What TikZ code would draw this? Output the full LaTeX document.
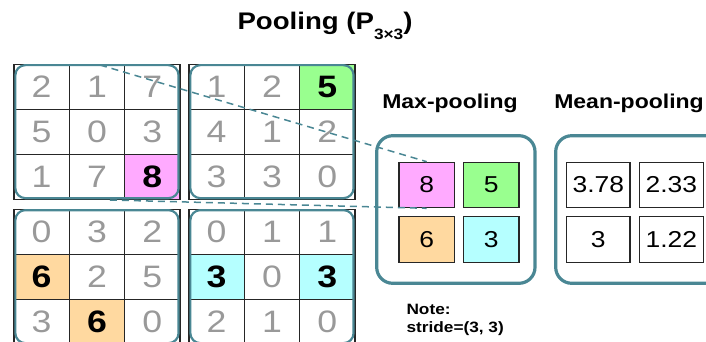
\documentclass[tikz,border=0pt]{standalone}
\usepackage{fontspec}
\setmainfont[FakeStretch=1.15]{Liberation Sans}
\usetikzlibrary{calc}
\definecolor{frameteal}{HTML}{4A8794}
\definecolor{maxpink}{HTML}{FFAAFF}
\definecolor{maxgreen}{HTML}{99FF8F}
\definecolor{maxorange}{HTML}{FFD9A0}
\definecolor{maxcyan}{HTML}{B5FFFF}
\definecolor{digitgray}{HTML}{999999}

\tikzset{
  cell/.style={draw=black!85, line width=1.3pt, minimum width=55.3pt,
    minimum height=45pt, inner sep=0pt, text=digitgray,
    font=\fontsize{31}{31}\selectfont},
  plain/.style={},
  hl/.style={fill=#1, text=black, font=\fontsize{31}{31}\selectfont\bfseries},
  hlpink/.style={hl=maxpink},
  hlgreen/.style={hl=maxgreen},
  hlorange/.style={hl=maxorange},
  hlcyan/.style={hl=maxcyan},
  blockframe/.style={draw=frameteal, line width=2.2pt, rounded corners=10pt},
  poolframe/.style={draw=frameteal, line width=3.2pt, rounded corners=16pt},
  poolcell/.style={draw=black!85, line width=1.2pt, minimum height=45.4pt,
    inner sep=0pt, font=\fontsize{23}{23}\selectfont},
  heading/.style={font=\fontsize{20}{20}\selectfont\bfseries, anchor=base},
  notetext/.style={font=\fontsize{15}{15}\selectfont\bfseries, anchor=base west},
  link/.style={draw=frameteal, line width=1.5pt, dash pattern=on 7pt off 5pt}
}

% one 3x3 block of the input: name, left, top, values
\newcommand{\inblock}[4]{%
  \foreach \v/\s [count=\i from 0] in {#4}{
    \pgfmathtruncatemacro\col{mod(\i,3)}
    \pgfmathtruncatemacro\row{div(\i,3)}
    \node[cell,\s] (#1\i) at ({#2+27.65+55.3*\col},{#3+22.5+45*\row}) {\v};
  }
  \draw[blockframe]
    ([shift={(2,1.5)}]#10.north west) rectangle ([shift={(-2,-1.8)}]#18.south east);
}

\begin{document}
\begin{tikzpicture}[x=1pt,y=-1pt]
\useasboundingbox (0,0) rectangle (706,342);

% Title
\node[font=\fontsize{24}{24}\selectfont\bfseries, anchor=base] (title)
  at (325,30) {Pooling (P\raisebox{-10pt}{\fontsize{15}{15}\selectfont 3×3})};

% Input split into four 3x3 blocks
\inblock{tl}{14}{64.3}{2/plain,1/plain,7/plain,5/plain,0/plain,3/plain,1/plain,7/plain,8/hlpink}
\inblock{tr}{189}{64.3}{1/plain,2/plain,5/hlgreen,4/plain,1/plain,2/plain,3/plain,3/plain,0/plain}
\inblock{bl}{14}{209.3}{0/plain,3/plain,2/plain,6/hlorange,2/plain,5/plain,3/plain,6/hlorange,0/plain}
\inblock{br}{189}{209.3}{0/plain,1/plain,1/plain,3/hlcyan,0/plain,3/hlcyan,2/plain,1/plain,0/plain}

% Max-pooling result
\node[heading] (maxhead) at (450,108.3) {Max-pooling};
\draw[poolframe] (376.7,135.7) rectangle (535,283.3);
\node[poolcell, fill=maxpink, minimum width=55.3pt] (m8) at (426.7,185) {8};
\node[poolcell, fill=maxgreen, minimum width=55.7pt] (m5) at (491.2,185) {5};
\node[poolcell, fill=maxorange, minimum width=55.3pt] (m6) at (426.7,239.5) {6};
\node[poolcell, fill=maxcyan, minimum width=55.7pt] (m3) at (491.2,239.5) {3};

% Mean-pooling result
\node[heading] (meanhead) at (629,108.3) {Mean-pooling};
\draw[poolframe] (555.7,135.7) rectangle (722,283.3);
\node[poolcell, minimum width=63.3pt] (a378) at (598.3,185) {3.78};
\node[poolcell, minimum width=64pt] (a233) at (671.3,185) {2.33};
\node[poolcell, minimum width=63.3pt] (a3) at (598.3,239.5) {3};
\node[poolcell, minimum width=64pt] (a122) at (671.3,239.5) {1.22};

% Window of the first block mapped to its maximum
\coordinate (src1) at (100,65);
\coordinate (src2) at (110,200);
\draw[link] (src1) -- (m8.north);
\draw[link] (src2) -- (m8.south);

% Note
\node[notetext] (note) at (403,314) {Note:};
\node[notetext] (stride) at (403,332) {stride=(3, 3)};

\end{tikzpicture}
\end{document}
